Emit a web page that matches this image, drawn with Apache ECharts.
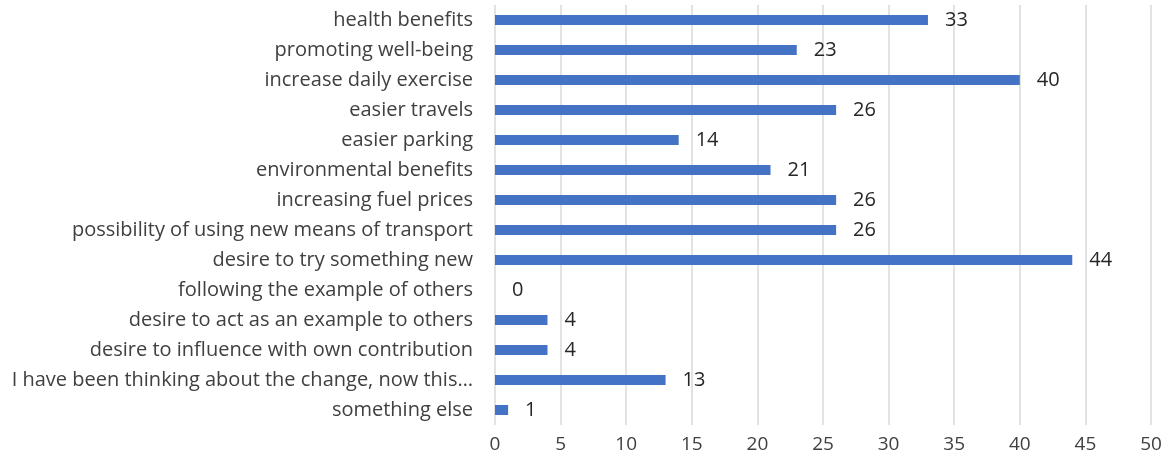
<!DOCTYPE html>
<html><head><meta charset="utf-8">
<script src="https://cdn.jsdelivr.net/npm/echarts@6/dist/echarts.min.js"></script>
<style>html,body{margin:0;padding:0;background:#fff}#c{width:1170px;height:469px}</style>
</head><body><div id="c"></div>
<script>
const categories = [
  "health benefits",
  "promoting well-being",
  "increase daily exercise",
  "easier travels",
  "easier parking",
  "environmental benefits",
  "increasing fuel prices",
  "possibility of using new means of transport",
  "desire to try something new",
  "following the example of others",
  "desire to act as an example to others",
  "desire to influence with own contribution",
  "I have been thinking about the change, now this…",
  "something else"
];
const values = [33, 23, 40, 26, 14, 21, 26, 26, 44, 0, 4, 4, 13, 1];
const xTicks = [0, 5, 10, 15, 20, 25, 30, 35, 40, 45, 50];

const chart = echarts.init(document.getElementById('c'));
const font = '"Open Sans", sans-serif';
chart.setOption({
  animation: false,
  grid: {left: 495, right: 19, top: 5, bottom: 44, containLabel: false, outerBoundsMode: 'none'},
  xAxis: {
    type: 'value', min: xTicks[0], max: xTicks[xTicks.length - 1], interval: 5,
    axisLine: {show: false}, axisTick: {show: false},
    splitLine: {show: true, lineStyle: {color: '#d9d9d9', width: 1.5}},
    axisLabel: {color: '#404040', fontSize: 19, fontFamily: font, margin: 10}
  },
  yAxis: {
    type: 'category', data: categories, inverse: true,
    axisLine: {show: false}, axisTick: {show: false},
    axisLabel: {color: '#404040', fontSize: 20, fontFamily: font, margin: 22}
  },
  series: [{
    type: 'bar', data: values, barWidth: 10,
    itemStyle: {color: '#4472C4'},
    label: {show: true, position: 'right', distance: 17, color: '#262626', fontSize: 20, fontFamily: font}
  }]
});
</script></body></html>
